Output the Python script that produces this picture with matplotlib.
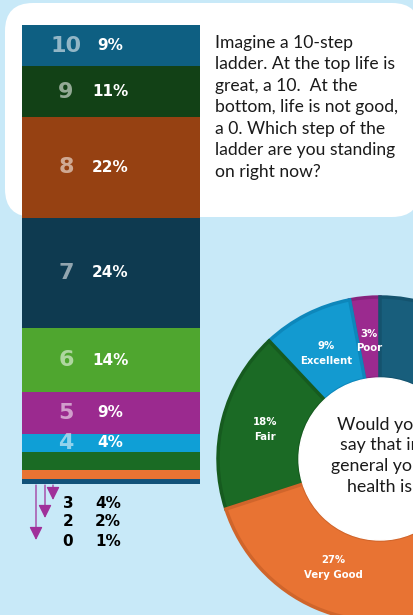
import matplotlib
matplotlib.use("Agg")
import matplotlib.pyplot as plt
from matplotlib.patches import FancyBboxPatch
import numpy as np

# ladder question, stacked from bottom (0) to top (10)
steps = ["0", "2", "3", "4", "5", "6", "7", "8", "9", "10"]
step_pct = [1, 2, 4, 4, 9, 14, 24, 22, 11, 9]
step_colors = ["#12527a", "#e87333", "#1a6b24", "#0f9fd6", "#9b2a8f",
               "#4fa62f", "#0e3a50", "#964112", "#124116", "#0e5f82"]
# small steps labelled below the bar
small_steps = ["3", "2", "0"]
small_pct = [4, 2, 1]

# health question (donut)
health_labels = ["Poor", "Excellent", "Fair", "Very Good", "Good"]
health_pct = [3, 9, 18, 27, 43]
health_colors = ["#9b2a8f", "#139ad0", "#1b6a25", "#e87333", "#185e7c"]
health_edges = ["#87237d", "#0d87bb", "#165b1f", "#d0652b", "#14536e"]

question1 = ("Imagine a 10-step\nladder. At the top life is\ngreat, a 10.  At the\n"
             "bottom, life is not good,\na 0. Which step of the\nladder are you standing\non right now?")
question2 = "Would you\nsay that in\ngeneral your\nhealth is"

W, H = 414, 615
fig = plt.figure(figsize=(W / 100, H / 100), dpi=100)
fig.patch.set_facecolor("#c8e9f8")

# background layer in pixel units
bg = fig.add_axes([0, 0, 1, 1])
bg.set_xlim(0, W)
bg.set_ylim(H, 0)
bg.axis("off")
bg.add_patch(FancyBboxPatch((5 + 28, 3 + 28), 420 - 5 - 56, 217 - 3 - 56,
                            boxstyle="round,pad=28", fc="white", ec="none"))
bg.text(215, 35, question1, fontsize=12.6, family="Lato", color="#1a1a1a",
        va="top", ha="left", linespacing=1.42)

# arrows from the small steps to their labels
arrow_x = [53, 45, 36]
arrow_tip = [500, 518, 540]
label_y = [503, 522, 542]
for ax_, tip, ly, s, p in zip(arrow_x, arrow_tip, label_y, small_steps, small_pct):
    bg.annotate("", xy=(ax_, tip), xytext=(ax_, 485),
                arrowprops=dict(arrowstyle="-|>,head_length=0.8,head_width=0.4",
                                color="#a0309a", lw=0.9, shrinkA=0, shrinkB=0))
    bg.text(68, ly, s, fontsize=11, weight="bold", ha="center", va="center", color="black")
    bg.text(108, ly, f"{p}%", fontsize=11, weight="bold", ha="center", va="center", color="black")

# stacked ladder bar
bar = fig.add_axes([22 / W, (H - 484) / H, 178 / W, 459 / H])
bar.axis("off")
bottom = np.concatenate([[0], np.cumsum(step_pct)[:-1]])
bar.bar(0, step_pct, bottom=bottom, width=1, color=step_colors)
bar.set_xlim(-0.5, 0.5)
bar.set_ylim(0, 100)
for s, p, b in zip(steps, step_pct, bottom):
    if s in small_steps:
        continue
    mid = b + p / 2
    bar.text(44 / 178 - 0.5, mid, s, fontsize=16, weight="bold", color="white",
             alpha=0.55, ha="center", va="center")
    bar.text(88 / 178 - 0.5, mid, f"{p}%", fontsize=11, weight="bold", color="white",
             ha="center", va="center")

# donut
cx, cy, r = 380, 459, 162
pie = fig.add_axes([(cx - r) / W, (H - cy - r) / H, 2 * r / W, 2 * r / H])
wedges, _ = pie.pie(health_pct, colors=health_colors, startangle=90, counterclock=True,
                    radius=1, wedgeprops=dict(width=0.5, linewidth=2.5))
for w, ec in zip(wedges, health_edges):
    w.set_edgecolor(ec)
pie.add_patch(plt.Circle((0, 0), 0.5, color="white", zorder=3))
ang0 = 90
for lab, p in zip(health_labels, health_pct):
    mid = np.radians(ang0 + p * 3.6 / 2)
    ang0 += p * 3.6
    pie.text(0.73 * np.cos(mid), 0.73 * np.sin(mid), f"{p}%\n{lab}", fontsize=7.3,
             weight="bold", color="white", ha="center", va="center", linespacing=1.55)
pie.text(0, 0.02, question2, fontsize=12.8, family="Lato", color="#1a1a1a",
         ha="center", va="center", linespacing=1.36, zorder=4)
pie.set_xlim(-1, 1)
pie.set_ylim(-1, 1)
pie.axis("off")

fig.savefig("out.png", dpi=100, facecolor=fig.get_facecolor())
